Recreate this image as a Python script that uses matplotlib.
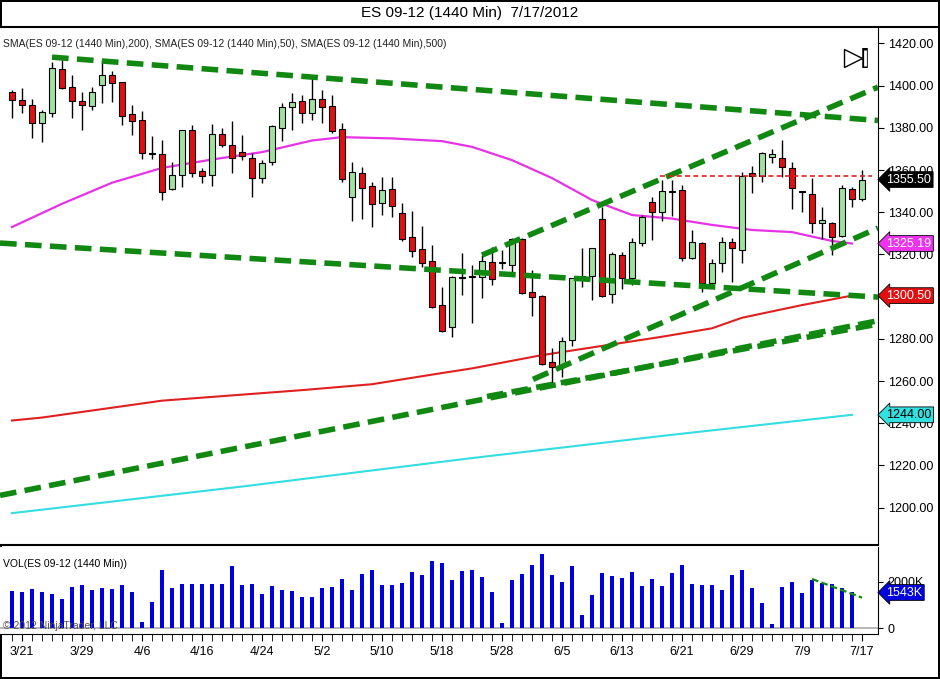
import matplotlib
matplotlib.use('Agg')
import matplotlib.pyplot as plt
import numpy as np

plt.rcParams['font.family'] = ['Liberation Sans', 'DejaVu Sans']

# daily bars, index 0 = 3/20/2012
opens = [1397, 1393.2, 1390.8, 1382.3, 1387, 1407.9, 1399.3, 1392.7, 1390.3, 1400.3,
         1405, 1401.7, 1386.5, 1383.7, 1367.6, 1367.6, 1351, 1357.6, 1379, 1359.5,
         1357.6, 1377, 1371.8, 1368.5, 1365.7, 1356.2, 1363.8, 1379.9, 1389.9, 1392.7,
         1387, 1393.6, 1390.3, 1379.4, 1347.2, 1358.6, 1352.4, 1344.4, 1351, 1339.6,
         1328.2, 1322.6, 1316.9, 1296, 1285.6, 1308.8, 1309.2, 1309.2, 1316.4, 1316,
         1315, 1327.3, 1302.2, 1300.3, 1269, 1267.1, 1279.4, 1308.8, 1309.7, 1336.8,
         1301.2, 1319.7, 1308.8, 1325.4, 1344.8, 1340.1, 1349.7, 1350.5, 1318.3, 1325.4,
         1306.4, 1315.9, 1325.9, 1322.1, 1358.6, 1357.2, 1366.2, 1365.7, 1360.9, 1349.6,
         1348.6, 1334.9, 1334.9, 1328.7, 1351, 1346.3]
highs = [1397.9, 1398.9, 1393.6, 1388.4, 1411, 1412.1, 1405, 1397, 1399.3, 1412,
         1407, 1401.7, 1390.8, 1388, 1376, 1374.2, 1363.8, 1379, 1381.3, 1361,
         1381.8, 1379.9, 1383.2, 1376.6, 1368, 1364.7, 1381.5, 1391.7, 1396.5, 1395.5,
         1403.6, 1397.9, 1395.5, 1382.3, 1363.8, 1361.4, 1354.3, 1356.7, 1356.7, 1344.4,
         1340.6, 1333.5, 1324.5, 1304.5, 1310, 1320.7, 1315, 1319.7, 1323.5, 1322.1,
         1327.8, 1327.8, 1312.6, 1300.8, 1275.6, 1280.9, 1309, 1323, 1323, 1342.5,
         1321.1, 1321.1, 1327.8, 1338.5, 1347.2, 1355.3, 1355.3, 1352.9, 1331.6, 1325.9,
         1317.8, 1328.2, 1327.8, 1359, 1361.9, 1368.5, 1370, 1374.2, 1363.8, 1350,
         1356.2, 1342.5, 1335.3, 1352.9, 1352, 1360]
lows = [1384.6, 1387, 1375.2, 1373.3, 1385, 1398.5, 1384.6, 1379, 1388.4, 1392,
        1392.2, 1381.3, 1376.6, 1365.2, 1365.2, 1345.8, 1350.5, 1352, 1356.7, 1353.8,
        1352.4, 1370.9, 1358.6, 1364.7, 1347.2, 1353.8, 1362.4, 1373.7, 1379, 1382.3,
        1383.7, 1382.3, 1377.5, 1354.3, 1335.8, 1336.8, 1333, 1338.7, 1337.7, 1326.4,
        1318.8, 1314, 1294.6, 1283.2, 1280.9, 1300.7, 1287.5, 1299.3, 1305.5, 1313.1,
        1311.7, 1301.2, 1290.8, 1267.6, 1257.2, 1262, 1276.6, 1304.5, 1298.4, 1299.8,
        1297, 1303.6, 1305.5, 1324, 1326.8, 1335.8, 1338.2, 1316.9, 1317.8, 1302.2,
        1304.1, 1311.7, 1306.9, 1315.9, 1349.1, 1354.3, 1363.3, 1356.7, 1341.5, 1340.1,
        1330.1, 1327.3, 1319.7, 1328.2, 1342.5, 1345.3]
closes = [1393.2, 1390.8, 1382.3, 1387.5, 1408.3, 1398.9, 1392.7, 1390.8, 1397, 1405,
          1401.2, 1385.6, 1383.2, 1368.1, 1367.8, 1349.6, 1357.6, 1379, 1358.6, 1357.2,
          1377, 1371.8, 1365.7, 1366.6, 1356.2, 1363.3, 1380.9, 1389.9, 1392.2, 1387,
          1393.6, 1389.9, 1378.5, 1355.7, 1359, 1351.5, 1343.9, 1350.5, 1342.9, 1327.3,
          1321.6, 1316, 1295.1, 1283.7, 1309.2, 1309.0, 1309.4, 1316.9, 1308.3, 1316.2,
          1327.3, 1301.7, 1299.8, 1268.1, 1266.6, 1279, 1308.8, 1309.7, 1323, 1300.3,
          1320.2, 1308.8, 1325.9, 1337.7, 1340.1, 1350, 1349.9, 1318.3, 1325.9, 1306.4,
          1315.9, 1325.9, 1323, 1357.2, 1357.2, 1368, 1367.6, 1361.4, 1351.5, 1349.8,
          1334.9, 1336.3, 1328.2, 1351.5, 1346.3, 1355.3]

# volume in thousands of contracts
volume = [1620, 1550, 1710, 1580, 1490, 1280, 1770, 1860, 1640, 1750,
          1710, 1860, 1580, 250, 1120, 2540, 1750, 1900, 1930, 1930,
          1900, 1900, 2680, 1860, 1900, 1460, 1840, 1670, 1620, 1360,
          1330, 1720, 1770, 2120, 1640, 2330, 2540, 1860, 1860, 1940,
          2420, 2290, 2900, 2810, 2070, 2460, 2540, 2200, 1550, 200,
          2070, 2330, 2720, 3200, 2290, 1990, 2680, 580, 1420, 2380,
          2250, 2190, 2420, 1810, 2120, 1810, 2380, 2720, 1900, 1860,
          1860, 1640, 2290, 2510, 1720, 1070, 160, 1800, 1990, 1510,
          2070, 1940, 1900, 1720, 1550]

# moving averages, (bar, price) read at a few points
sma50_x = [0, 5, 10, 15, 20, 25, 30, 33, 38, 43, 46, 50, 54, 58, 62, 66, 70, 74, 78, 82, 84]
sma50_y = [1333, 1344, 1354, 1361, 1365, 1368.5, 1374, 1375.6, 1375, 1373.7, 1371,
           1364.7, 1356.2, 1345.8, 1338.7, 1337, 1334, 1331.6, 1330.6, 1326.4, 1325.19]
sma200_x = [0, 3, 15, 29, 36, 43, 46, 53, 65, 70, 73, 79, 84]
sma200_y = [1241.3, 1242.7, 1250.7, 1255.7, 1258.5, 1263.8, 1266, 1272.3, 1281, 1285,
            1290, 1296, 1300.5]
sma500_x = [0, 23, 46, 65, 84]
sma500_y = [1197.4, 1210, 1223.5, 1234, 1244]

# hand drawn trend lines: (bar0, price0, bar1, price1)
trend_lines = [(4, 1413.5, 86.6, 1383.5),
               (-1.2, 1325.4, 86.6, 1299.8),
               (-1.2, 1205.8, 86.6, 1288.6),
               (47, 1319.7, 86.6, 1399.3),
               (52.1, 1260.8, 86.6, 1332.5),
               (47.5, 1252.7, 86.6, 1287)]
resist = (64.8, 86, 1357.2)
vol_trend = (80, 2130, 85, 1320)

tick_pos = [1, 7, 13, 19, 25, 31, 37, 43, 49, 55, 61, 67, 73, 79, 85]
tick_lab = ['3/21', '3/29', '4/6', '4/16', '4/24', '5/2', '5/10', '5/18', '5/28',
            '6/5', '6/13', '6/21', '6/29', '7/9', '7/17']

fig = plt.figure(figsize=(9.4, 6.79), dpi=100)
fig.patch.set_edgecolor('black')
fig.patch.set_linewidth(1.5)
ax = fig.add_axes([0.0, 1 - 545 / 679, 878 / 940, (545 - 27) / 679])
axv = fig.add_axes([0.0, 1 - 634 / 679, 878 / 940, (634 - 547) / 679], sharex=ax)

x = np.arange(len(opens))
o = np.array(opens); c = np.array(closes)
up = c >= o
cols = np.where(up, '#9fe29f', '#e01010')
ax.vlines(x, lows, highs, color='black', lw=1, zorder=3)
ax.bar(x, np.maximum(np.abs(c - o), 0.5), bottom=np.minimum(o, c), width=0.65,
       color=cols, edgecolor='black', lw=0.8, zorder=4)

ax.plot(sma50_x, sma50_y, color='#e633e6', lw=1.6, zorder=2)
ax.plot(sma200_x, sma200_y, color='#e02020', lw=1.5, zorder=2)
ax.plot(sma500_x, sma500_y, color='#33dde0', lw=1.5, zorder=2)
for x0, y0, x1, y1 in trend_lines:
    ax.plot([x0, x1], [y0, y1], color='#118811', lw=4, ls=(0, (3, 1.5)), zorder=5)
ax.plot([resist[0], resist[1]], [resist[2], resist[2]], color='#e02020', lw=1.2,
        ls=(0, (3, 2)), zorder=5)

ax.set_xlim(-1.2, 86.6)
ax.set_ylim(1182.3, 1427.8)
ax.yaxis.tick_right()
ax.set_yticks(np.arange(1200, 1421, 20))
ax.set_yticklabels(['%.2f' % v for v in np.arange(1200, 1421, 20)], fontsize=9)
ax.tick_params(axis='x', which='both', bottom=False, labelbottom=False)
ax.tick_params(axis='y', length=4)
for s in ['top', 'left', 'bottom']:
    ax.spines[s].set_visible(False)

ax.text(0.003, 0.977, 'SMA(ES 09-12 (1440 Min),200), SMA(ES 09-12 (1440 Min),50), '
        'SMA(ES 09-12 (1440 Min),500)', transform=ax.transAxes, fontsize=7.5,
        va='top', color='#222222')
fig.text(0.5, 0.981, 'ES 09-12 (1440 Min)  7/17/2012', ha='center', va='center', fontsize=11)
fig.add_artist(plt.Line2D([0, 1], [1 - 27 / 679] * 2, color='black', lw=1.5))
fig.add_artist(plt.Line2D([0, 878 / 940], [1 - 545 / 679] * 2, color='black', lw=1.5))
# play button icon
ax.plot([0.971], [0.94], marker='>', ms=13, mfc='white', mec='black', transform=ax.transAxes)
ax.plot([0.985], [0.94], marker='|', ms=14, mew=4, color='black', transform=ax.transAxes)
ax.plot([0.985], [0.94], marker='|', ms=12, mew=2, color='white', transform=ax.transAxes)

def price_tag(axis, y, txt, bg, fg):
    axis.annotate(txt, xy=(1.0, y), xycoords=('axes fraction', 'data'),
                  xytext=(6, 0), textcoords='offset points', va='center', ha='left',
                  fontsize=9, color=fg,
                  bbox=dict(boxstyle='larrow,pad=0.15', fc=bg, ec='black', lw=0.6))

price_tag(ax, 1355.5, '1355.50', 'black', 'white')
price_tag(ax, 1325.19, '1325.19', '#ee33ee', 'white')
price_tag(ax, 1300.5, '1300.50', '#e01010', 'white')
price_tag(ax, 1244.0, '1244.00', '#33e0e0', 'black')

xv = np.arange(len(volume))
axv.bar(xv, volume, width=0.45, color='#0000dd', zorder=3)
axv.axhline(0, color='#aaaaaa', lw=1.2, zorder=2)
axv.plot([vol_trend[0], vol_trend[2]], [vol_trend[1], vol_trend[3]], color='#118811',
         lw=1.6, ls=(0, (3, 1.5)), zorder=4)
axv.set_ylim(-260, 3520)
axv.yaxis.tick_right()
axv.set_yticks([0, 2000])
axv.set_yticklabels(['0', '2000K'], fontsize=9)
axv.set_xticks(tick_pos)
axv.set_xticklabels(tick_lab, fontsize=9)
axv.set_xticks(x, minor=True)
axv.tick_params(axis='x', which='both', length=5)
for s in ['top', 'left']:
    axv.spines[s].set_visible(False)
price_tag(axv, 1543, '1543K', '#0000dd', 'white')
axv.text(0.003, 0.8, 'VOL(ES 09-12 (1440 Min))', transform=axv.transAxes, fontsize=7.5, va='center')
axv.text(0.003, 0.03, '\u00a9 2012 NinjaTrader, LLC', transform=axv.transAxes, fontsize=7.5,
         color='#555555', va='bottom')

fig.savefig('out.png', dpi=100)
